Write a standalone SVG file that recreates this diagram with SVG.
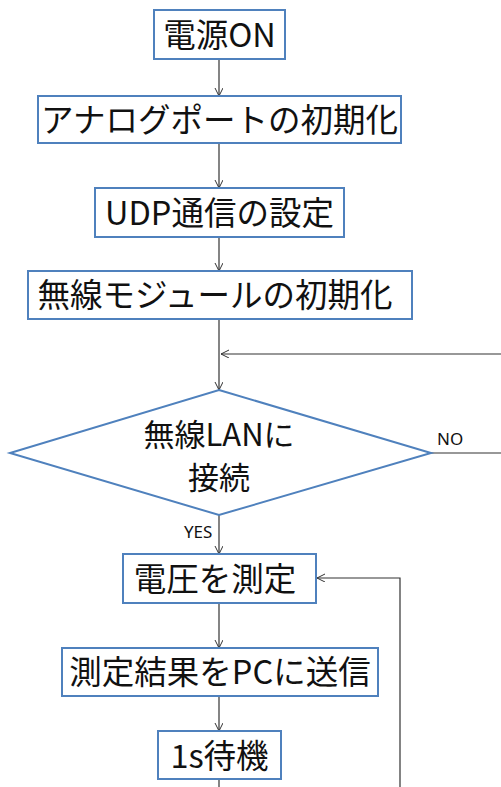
<svg xmlns="http://www.w3.org/2000/svg" width="501" height="787" viewBox="0 0 501 787">
<defs>
<marker id="arr" markerWidth="10" markerHeight="10" refX="8" refY="4" orient="auto" markerUnits="userSpaceOnUse">
<path d="M0,0 L8,4 L0,8" fill="none" stroke="#333" stroke-width="1"/>
</marker>
<style>
.box{fill:#fff;stroke:#4f81bd;stroke-width:2}
.t{font-family:"Noto Sans CJK JP","Noto Sans",sans-serif;font-size:32.5px;fill:#111;text-anchor:middle}
.d{font-size:31px}
.s{font-family:"Noto Sans","Liberation Sans",sans-serif;font-size:17px;fill:#111}
.ln{fill:none;stroke:#333;stroke-width:1.2}
.a{marker-end:url(#arr)}
</style>
</defs>
<rect width="501" height="787" fill="#fff"/>
<g id="connectors">
<line class="ln a" x1="219" y1="59" x2="219" y2="96"/>
<line class="ln a" x1="219" y1="143" x2="219" y2="188"/>
<line class="ln a" x1="219" y1="237" x2="219" y2="271"/>
<line class="ln a" x1="219" y1="319" x2="219" y2="390"/>
<line class="ln a" x1="501" y1="354" x2="221" y2="354"/>
<line class="ln" x1="431" y1="453" x2="501" y2="453"/>
<line class="ln a" x1="219" y1="515" x2="219" y2="554"/>
<line class="ln a" x1="219" y1="603" x2="219" y2="648"/>
<line class="ln a" x1="219" y1="696" x2="219" y2="731"/>
<line class="ln" x1="219" y1="779" x2="219" y2="787"/>
<polyline class="ln a" points="400,787 400,578 317,578"/>
<text class="s" x="437" y="445">NO</text>
<text class="s" x="184" y="538">YES</text>
</g>
<g id="n1"><rect class="box" x="154" y="10" width="131" height="49"/><text class="t" x="219.5" y="47">電源ON</text></g>
<g id="n2"><rect class="box" x="38" y="96" width="363" height="47"/><text class="t" x="219.5" y="132">アナログポートの初期化</text></g>
<g id="n3"><rect class="box" x="95" y="188" width="249" height="49"/><text class="t" x="219.5" y="225">UDP通信の設定</text></g>
<g id="n4"><rect class="box" x="28" y="271" width="384" height="48"/><text class="t" x="215" y="307">無線モジュールの初期化</text></g>
<g id="n5"><polygon class="box" points="219,390 431,453 219,515 10,453"/><text class="t d" x="219" y="446">無線LANに</text><text class="t d" x="219" y="489">接続</text></g>
<g id="n6"><rect class="box" x="123" y="554" width="193" height="49"/><text class="t" x="215" y="591">電圧を測定</text></g>
<g id="n7"><rect class="box" x="62" y="648" width="316" height="48"/><text class="t" x="220" y="684">測定結果をPCに送信</text></g>
<g id="n8"><rect class="box" x="158" y="731" width="123" height="48"/><text class="t" x="219.5" y="768">1s待機</text></g>
</svg>
